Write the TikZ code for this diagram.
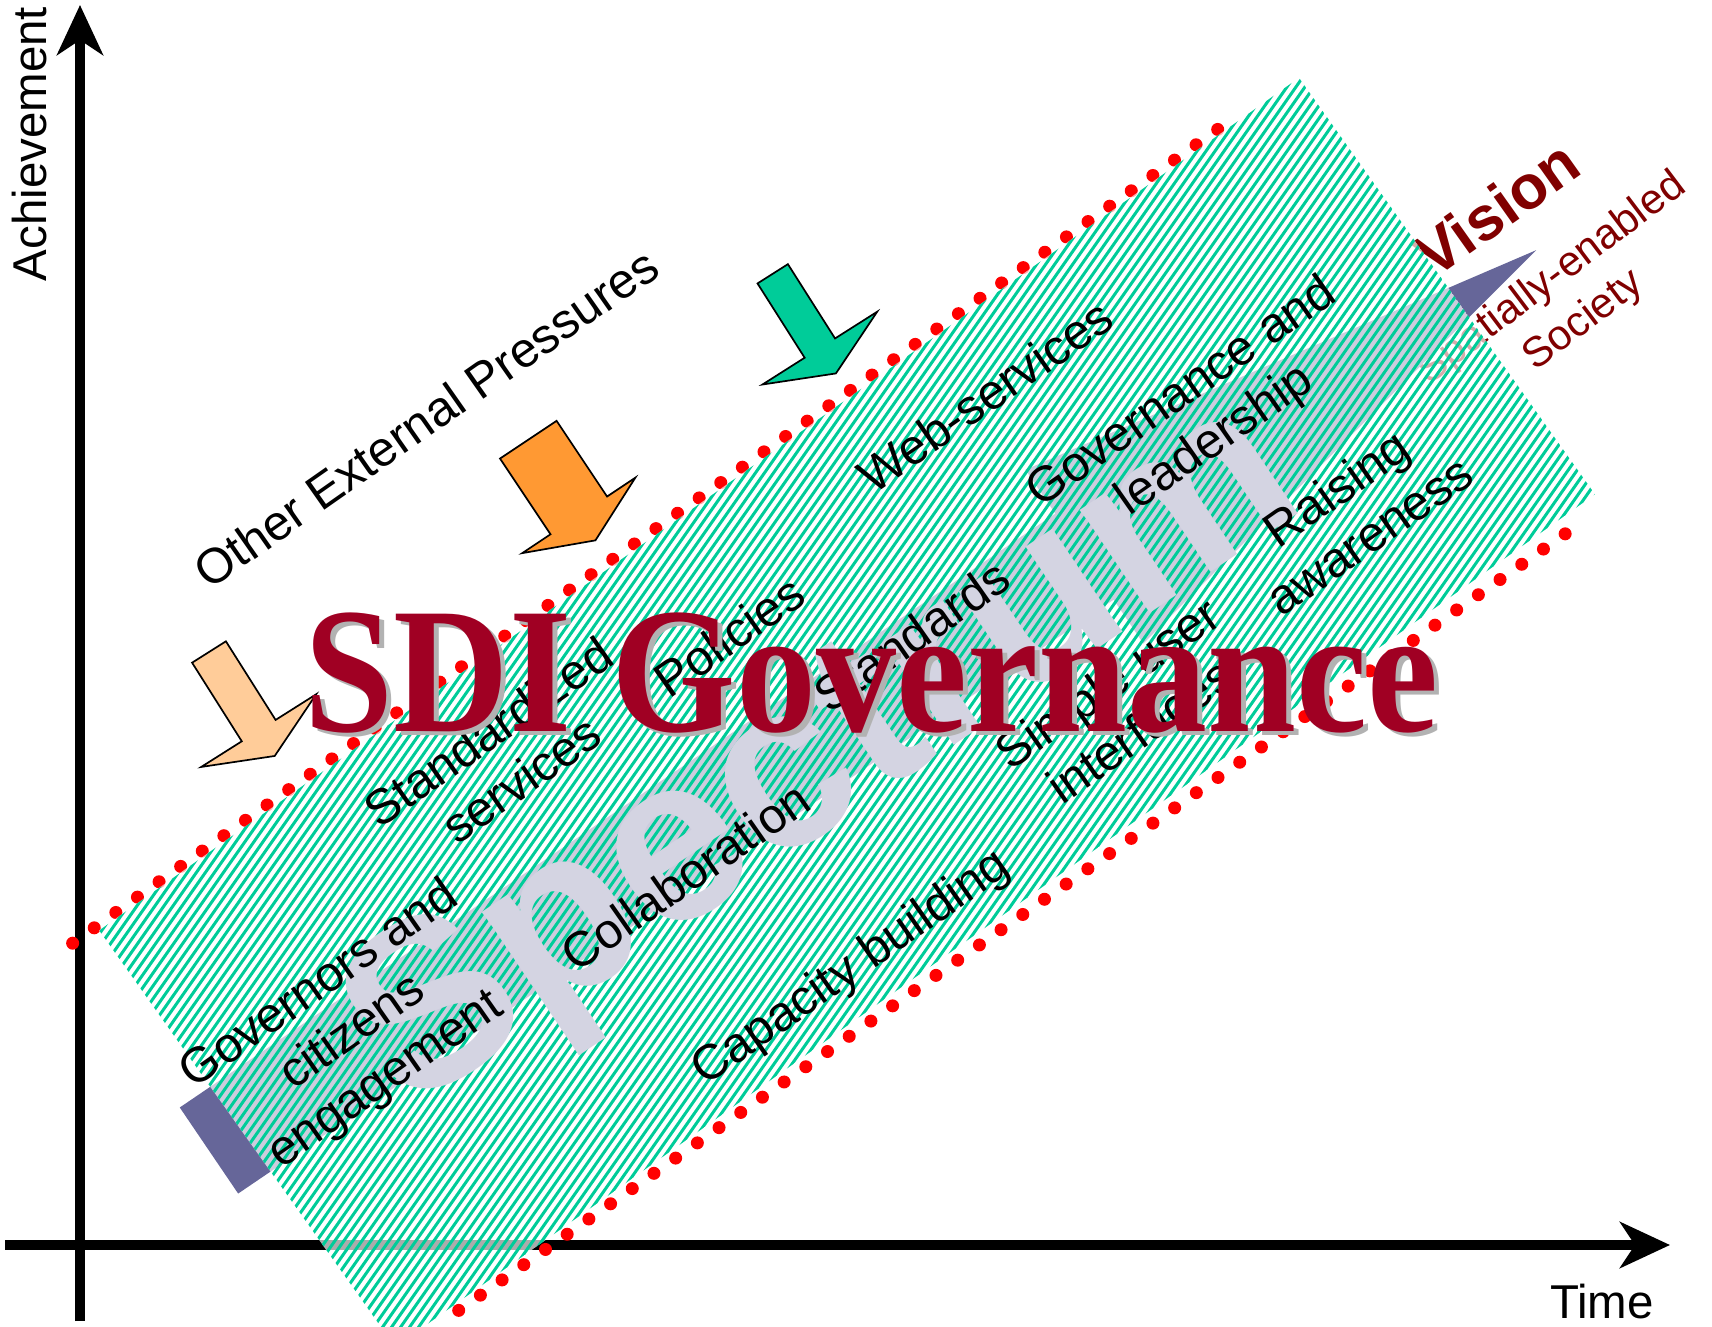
\documentclass[tikz,border=0pt]{standalone}
\usepackage{fontspec}
\setmainfont{Liberation Sans}
\newfontfamily\titlefont{Liberation Serif}
\usetikzlibrary{arrows.meta}

\definecolor{sdired}{RGB}{160,0,35}
\definecolor{visionred}{RGB}{128,0,0}
\definecolor{bandteal}{RGB}{0,204,153}
\definecolor{spectrumblue}{RGB}{102,102,153}
\definecolor{spectrumgray}{RGB}{212,212,226}
\definecolor{peach}{RGB}{255,204,153}
\definecolor{pressureorange}{RGB}{255,153,51}
\definecolor{shadowgray}{RGB}{178,178,178}

% block arrow: colour, origin, angle, shaft half width, shaft length
\newcommand{\pressure}[5]{%
  \begin{scope}[shift={#2}, rotate=#3]
    \filldraw[pressureline, fill=#1] (0,#4) -- (#5,#4) -- (#5,68) -- ({#5+30},0)
      -- (#5,-68) -- (#5,-#4) -- (0,-#4) -- cycle;
  \end{scope}}

\begin{document}
\begin{tikzpicture}[
  x=0.01cm, y=0.01cm,
  axisline/.style={line width=0.1cm, -{Stealth[length=0.5cm,width=0.46cm,inset=0.15cm]}},
  axislabel/.style={font=\fontsize{13.5}{16}\selectfont, inner sep=0pt},
  bandtext/.style={font=\fontsize{14}{16.4}\selectfont, align=center, rotate=35, inner sep=0pt},
  visiontext/.style={text=visionred, align=center, inner sep=0pt},
  reddots/.style={red, line width=0.13cm, line cap=round, dash pattern=on 0pt off 0.2649cm},
  stripe/.style={bandteal, line width=0.03cm},
  pressureline/.style={draw=black, line width=0.017cm, line join=miter},
  spectrum/.style={font=\bfseries\fontsize{67}{67}\selectfont, text=spectrumgray,
    transform shape, rotate=-1.5, anchor=base west, inner sep=0pt},
  sdititle/.style={font=\titlefont\bfseries\fontsize{45.5}{45.5}\selectfont, yscale=1.12,
    anchor=base, inner sep=0pt}]

  \useasboundingbox (0,0) rectangle (1712,1326);
  \clip (0,0) rectangle (1712,1326);

  % axes
  \coordinate (xstart) at (5,81);
  \coordinate (xend) at (1670,81);
  \coordinate (ystart) at (80,5);
  \coordinate (yend) at (80,1321);
  \draw[axisline] (xstart) -- (xend);
  \draw[axisline] (ystart) -- (yend);
  \node[axislabel, rotate=90] (achievement) at (30,1182) {Achievement};
  \node[axislabel] (time) at (1602,24) {Time};

  % vision, partly under the band
  \node[visiontext, font=\bfseries\fontsize{17.6}{20}\selectfont, rotate=35.3] (vision) at (1496.7,1118) {Vision};
  \node[visiontext, font=\fontsize{12}{15}\selectfont, rotate=37] (society) at (1568,1026) {Spatially-enabled\\Society};

  \begin{scope}[rotate=35.4]
    \coordinate (dottl) at (281,270);
    \coordinate (dottr) at (1693,270);
    \coordinate (dotbl) at (383,-253);
    \coordinate (dotbr) at (1742,-261);
    \draw[reddots] (dottl) -- (dottr);
    \draw[reddots] (dotbl) -- (dotbr);

    % spectrum arrow
    \begin{scope}[shift={(272,22)}, rotate=-1.25]
      \fill[spectrumblue] (0,-52) -- (1058,-52) -- (1058,-105) -- (1604,0)
        -- (1058,105) -- (1058,52) -- (0,52) -- cycle;
    \end{scope}

    % striped band
    \begin{scope}
      \clip (310,-246) rectangle (1782,265);
      \fill[white, opacity=0.67] (310,-246) rectangle (1782,265);
      \foreach \k in {-52,...,81}
        \draw[stripe] (\k*22,-255) -- ++(19.6:1650);
    \end{scope}

    \node[spectrum] (spectrum) at (456,-62) {Spectrum};
  \end{scope}

  \node[bandtext] (pressures) at (425.8,908) {Other External Pressures};
  \node[bandtext] (websvc) at (985,930) {Web-services};
  \node[bandtext] (leadership) at (1199,908.6) {Governance and\\leadership};
  \node[bandtext] (awareness) at (1352.5,814.5) {Raising\\awareness};
  \node[bandtext] (standards) at (911.7,690.5) {Standards};
  \node[bandtext] (interfaces) at (1123.5,619.6) {Simple user\\interfaces};
  \node[bandtext] (policies) at (728.8,690) {Policies};
  \node[bandtext] (services) at (504.4,570.5) {Standardized\\services};
  \node[bandtext] (collab) at (685.1,449.8) {Collaboration};
  \node[bandtext] (capacity) at (851.6,357) {Capacity building};
  \node[bandtext] (engagement) at (353,293) {Governors and\\citizens\\engagement};

  % external pressures
  \pressure{peach}{(209,674)}{-57.7}{20}{93}
  \pressure{pressureorange}{(528.3,886.3)}{-56.3}{34}{91}
  \pressure{bandteal}{(772.7,1052.2)}{-57.6}{18}{88}

  \node[sdititle, text=shadowgray] (sdishadow) at (876.5,591) {SDI Governance};
  \node[sdititle, text=sdired] (sdi) at (871.5,594.3) {SDI Governance};
\end{tikzpicture}
\end{document}
